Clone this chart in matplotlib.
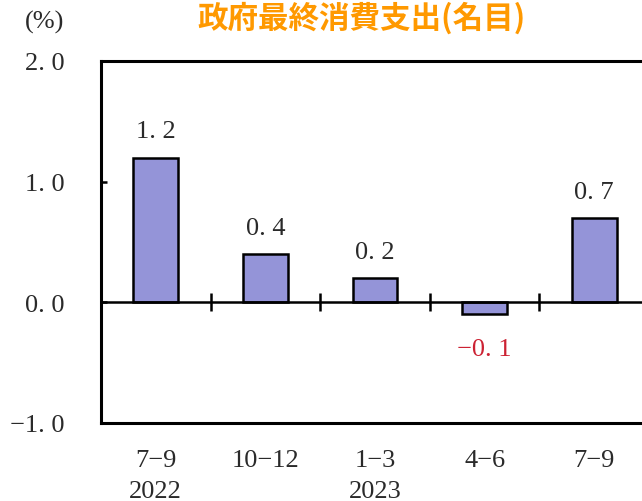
import numpy as np
import matplotlib
matplotlib.use("Agg")
import matplotlib.pyplot as plt

quarters = ["7\u22129", "10\u221212", "1\u22123", "4\u22126", "7\u22129"]
years = ["2022", "", "2023", "", ""]
values = [1.2, 0.4, 0.2, -0.1, 0.7]
value_labels = ["1. 2", "0. 4", "0. 2", "\u22120. 1", "0. 7"]
yticks = [2.0, 1.0, 0.0, -1.0]
ytick_labels = ["2. 0", "1. 0", "0. 0", "\u22121. 0"]
title = "政府最終消費支出(名目)"

serif = ["Liberation Serif", "DejaVu Serif"]
FS = 19
TXT = "#2a2a2a"
fig = plt.figure(figsize=(6.42, 5.02), dpi=100)
W, H = 642, 502
left, right, top, bottom = 101, 649, 62, 424
ax = fig.add_axes([left / W, 1 - bottom / H, (right - left) / W, (bottom - top) / H])

x = np.arange(len(values))
ax.bar(x, values, width=0.41, color="#9494D8", edgecolor="black", linewidth=1.8, zorder=3)
ax.axhline(0, color="black", linewidth=1.8, zorder=4)
ax.vlines(x[:-1] + 0.5, -0.075, 0.075, color="black", linewidth=1.8, zorder=4)

ax.set_xlim(-0.5, len(values) - 0.5)
ax.set_ylim(-1.0, 2.0)
ax.set_yticks(yticks)
ax.set_yticklabels(ytick_labels, fontfamily=serif, fontsize=FS, color=TXT)
ax.tick_params(axis="y", direction="in", length=4, width=1.8, pad=26)
ax.set_xticks([])
for s in ax.spines.values():
    s.set_linewidth(2.2)
ax.spines["right"].set_visible(False)

for xi, v, lab in zip(x, values, value_labels):
    if v >= 0:
        ax.annotate(lab, (xi, v), xytext=(0, 14.5), textcoords="offset points",
                    ha="center", va="baseline", fontfamily=serif, fontsize=FS, color=TXT)
    else:
        ax.annotate(lab, (xi, v), xytext=(0, -29.5), textcoords="offset points",
                    ha="center", va="baseline", fontfamily=serif, fontsize=FS, color="#CC2233")

for xi, q, yr in zip(x, quarters, years):
    ax.annotate(q, (xi, -1.0), xytext=(0, -31), textcoords="offset points",
                ha="center", va="baseline", fontfamily=serif, fontsize=FS, color=TXT,
                annotation_clip=False)
    if yr:
        ax.annotate(yr, (xi, -1.0), xytext=(0, -53), textcoords="offset points",
                    ha="center", va="baseline", fontfamily=serif, fontsize=FS, color=TXT,
                    annotation_clip=False)

fig.text(45 / W, 1 - 22 / H, "(%)", ha="center", va="center",
         fontfamily=serif, fontsize=FS, color=TXT)
fig.text(362 / W, 1 - 2 / H, title, ha="center", va="top",
         fontfamily=["Noto Sans CJK JP", "DejaVu Sans"], fontsize=22,
         fontweight="bold", color="#FF9900")

fig.savefig("out.png", dpi=100)
